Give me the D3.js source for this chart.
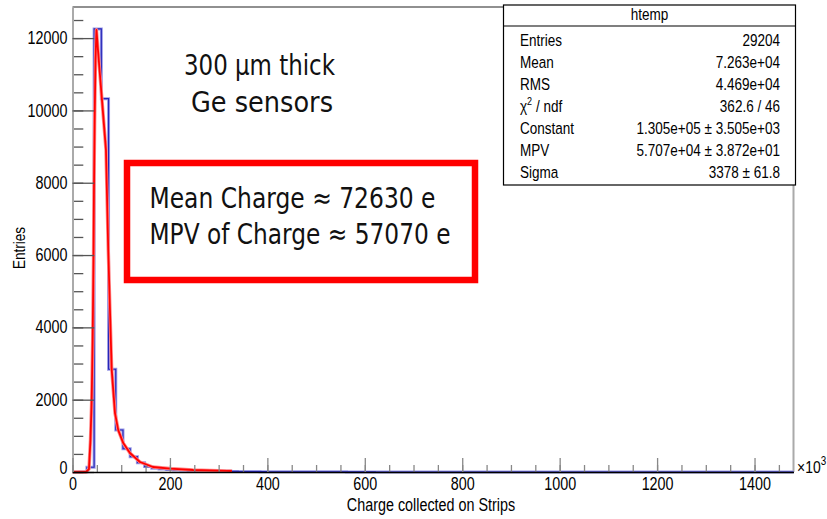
<!DOCTYPE html>
<html lang="en">
<head>
	<meta charset="UTF-8"/>
	<title>htemp - Charge collected on Strips</title>
	<script src="https://d3js.org/d3.v7.min.js"></script>
	<style>
		body { margin: 0; background: #fff; }
		svg { display: block; }
	</style>
</head>
<body>
<script>
var w = 827;
var h = 519;

// histogram htemp : 100 bins, 0 .. 1480 (x10^3)
var xMin = 0, xMax = 1480;
var yMax = 12860;
var binWidth = 14.8;
var counts = [
	0, 4, 130, 12255, 10326, 2841, 1162, 645, 424, 257,
	150, 105, 85, 66, 55, 46, 38, 32, 28, 24,
	21, 18, 16, 14, 12, 11, 10, 9, 8, 7,
	7, 6, 6, 5, 5, 4, 4, 4, 3, 3,
	3, 3, 2, 2, 2, 2, 2, 2, 1, 1,
	1, 1, 1, 1, 1, 1, 1, 1, 1, 1,
	1, 0, 1, 0, 1, 0, 0, 1, 0, 0,
	0, 0, 0, 0, 0, 0, 0, 0, 0, 0,
	0, 0, 0, 0, 0, 0, 0, 0, 0, 0,
	0, 0, 0, 0, 0, 0, 0, 0, 0, 0
];

// landau fit
var fitX = [0, 27.7, 33.8, 36.9, 39.4, 41.4, 43.1, 44.1, 45.5, 47.2, 49.2, 52.3, 56.4, 60.5, 64.6, 68.7,
	73.4, 76.9, 80.4, 87.2, 93.9, 104.2, 117.9, 138.5, 165.1, 200, 247.2, 316.9, 327.2];
var fitY = [0, 0, 80, 890, 1990, 3650, 5860, 7800, 9740, 11400, 12230, 11670, 10980, 10290, 9600, 8910,
	6140, 4480, 2850, 1630, 1160, 800, 525, 277, 138, 95, 55, 30, 28];

var yTicks = [0, 2000, 4000, 6000, 8000, 10000, 12000];
var xTicks = [0, 200, 400, 600, 800, 1000, 1200, 1400];

var statsTitle = "htemp";
var statsLabels = ["Entries", "Mean", "RMS", "χ2 / ndf", "Constant", "MPV", "Sigma"];
var statsValues = ["29204", "7.263e+04", "4.469e+04", "362.6 / 46", "1.305e+05 ± 3.505e+03", "5.707e+04 ± 3.872e+01", "3378 ± 61.8"];

var notes = ["300 µm thick", "Ge sensors"];
var boxNotes = ["Mean Charge ≈ 72630 e", "MPV of Charge ≈ 57070 e"];

var xTitle = "Charge collected on Strips";
var yTitle = "Entries";

var narrow = 0.82;	// root text looks condensed
var rootFont = "'Liberation Sans', Arial, sans-serif";

var xScale = d3.scaleLinear()
	.domain([xMin, xMax])
	.range([72.5, 793.5]);

var yScale = d3.scaleLinear()
	.domain([0, yMax])
	.range([472, 7]);

var svg = d3.select("body")
	.append("svg")
	.attr("width", w)
	.attr("height", h);

svg.append("rect")
	.attr("width", w)
	.attr("height", h)
	.attr("fill", "#fff");

// frame top + right
svg.append("line")
	.attr("x1", xScale(xMin)).attr("x2", xScale(xMax))
	.attr("y1", yScale(yMax)).attr("y2", yScale(yMax))
	.attr("stroke", "#222").attr("stroke-width", 1.2);
svg.append("line")
	.attr("x1", xScale(xMax)).attr("x2", xScale(xMax))
	.attr("y1", yScale(yMax)).attr("y2", yScale(0))
	.attr("stroke", "#aaa").attr("stroke-width", 2);

// histogram outline
var histPts = [[xMin, 0]];
counts.forEach(function(c, i) {
	histPts.push([i * binWidth, c]);
	histPts.push([(i + 1) * binWidth, c]);
});
histPts.push([xMax, 0]);

var line = d3.line()
	.x(function(d) { return xScale(d[0]); })
	.y(function(d) { return yScale(d[1]); });

svg.append("path")
	.datum(histPts)
	.attr("d", line)
	.attr("fill", "none")
	.attr("stroke", "#9a9ae6")
	.attr("stroke-width", 3);
svg.append("path")
	.datum(histPts)
	.attr("d", line)
	.attr("fill", "none")
	.attr("stroke", "#2626b8")
	.attr("stroke-width", 1.1);

// fit
var fitPts = fitX.map(function(x, i) { return [x, fitY[i]]; });
svg.append("path")
	.datum(fitPts)
	.attr("d", line)
	.attr("fill", "none")
	.attr("stroke", "#ff8a8a")
	.attr("stroke-width", 3.4)
	.attr("stroke-linejoin", "round");
svg.append("path")
	.datum(fitPts)
	.attr("d", line)
	.attr("fill", "none")
	.attr("stroke", "#f00")
	.attr("stroke-width", 1.8)
	.attr("stroke-linejoin", "round");

// y axis
var yMinor = d3.axisLeft(yScale)
	.tickValues(d3.range(0, yMax, 500))
	.tickSize(-10.8)
	.tickSizeOuter(0)
	.tickFormat("");
svg.append("g")
	.attr("transform", "translate(" + xScale(xMin) + ",0)")
	.call(yMinor)
	.call(function(g) { g.select(".domain").remove(); })
	.selectAll("line").attr("stroke", "#555").attr("stroke-width", 1.3);

var yAxis = d3.axisLeft(yScale)
	.tickValues(yTicks)
	.tickSize(-21.7)
	.tickSizeOuter(0)
	.tickPadding(5)
	.tickFormat(d3.format("d"));
var gy = svg.append("g")
	.attr("transform", "translate(" + xScale(xMin) + ",0)")
	.call(yAxis);
gy.select(".domain").attr("stroke", "#aaa").attr("stroke-width", 2);
gy.selectAll("line").attr("stroke", "#555").attr("stroke-width", 1.3);
gy.selectAll("text")
	.attr("font-family", rootFont)
	.attr("font-size", "17.5px")
	.attr("fill", "#000")
	.attr("x", -5 / narrow)
	.attr("transform", function(d) {
		return (d === 0 ? "translate(0,-4) " : "") + "scale(" + narrow + ",1)";
	});

// x axis
var xMinor = d3.axisBottom(xScale)
	.tickValues(d3.range(0, xMax, 50))
	.tickSize(-7)
	.tickSizeOuter(0)
	.tickFormat("");
svg.append("g")
	.attr("transform", "translate(0," + yScale(0) + ")")
	.call(xMinor)
	.call(function(g) { g.select(".domain").remove(); })
	.selectAll("line").attr("stroke", "#888").attr("stroke-width", 1.3);

var xAxis = d3.axisBottom(xScale)
	.tickValues(xTicks)
	.tickSize(-14)
	.tickSizeOuter(0)
	.tickPadding(6)
	.tickFormat(d3.format("d"));
var gx = svg.append("g")
	.attr("transform", "translate(0," + yScale(0) + ")")
	.call(xAxis);
gx.select(".domain").attr("stroke", "#000").attr("stroke-width", 1.4);
gx.selectAll("line").attr("stroke", "#888").attr("stroke-width", 1.3);
gx.selectAll("text")
	.attr("font-family", rootFont)
	.attr("font-size", "17.5px")
	.attr("fill", "#000")
	.attr("transform", "scale(" + narrow + ",1)");

// x10^3
var mult = svg.append("text")
	.attr("transform", "translate(797,473) scale(" + narrow + ",1)")
	.attr("font-family", rootFont)
	.attr("font-size", "17px")
	.attr("fill", "#000");
mult.append("tspan").text("×10");
mult.append("tspan").text("3").attr("font-size", "12px").attr("dy", -8);

// axis titles
svg.append("text")
	.text(xTitle)
	.attr("transform", "translate(" + ((xScale(xMin) + xScale(xMax)) / 2 - 2) + ",511) scale(" + narrow + ",1)")
	.attr("text-anchor", "middle")
	.attr("font-family", rootFont)
	.attr("font-size", "17.5px")
	.attr("fill", "#000");

svg.append("text")
	.text(yTitle)
	.attr("transform", "translate(24.5,248) rotate(-90) scale(" + narrow + ",1)")
	.attr("text-anchor", "middle")
	.attr("font-family", rootFont)
	.attr("font-size", "16.5px")
	.attr("fill", "#000");

// stats box
var sb = svg.append("g");
sb.append("rect")
	.attr("x", 503.5).attr("y", 5)
	.attr("width", 292).attr("height", 180)
	.attr("fill", "#fff")
	.attr("stroke", "#000")
	.attr("stroke-width", 1.2);
sb.append("line")
	.attr("x1", 503.5).attr("x2", 795.5)
	.attr("y1", 26).attr("y2", 26)
	.attr("stroke", "#000").attr("stroke-width", 1.2);
sb.append("text")
	.text(statsTitle)
	.attr("transform", "translate(649.5,20) scale(" + narrow + ",1)")
	.attr("text-anchor", "middle")
	.attr("font-family", rootFont)
	.attr("font-size", "16.5px");

statsLabels.forEach(function(lab, i) {
	var y = 45.5 + i * 22;
	var t = sb.append("text")
		.attr("transform", "translate(520," + y + ") scale(" + narrow + ",1)")
		.attr("font-family", rootFont)
		.attr("font-size", "16.5px");
	if (lab.indexOf("χ2") === 0) {
		t.append("tspan").text("χ");
		t.append("tspan").text("2").attr("font-size", "11px").attr("dy", -7);
		t.append("tspan").text(lab.slice(2)).attr("dy", 7);
	} else {
		t.text(lab);
	}
	sb.append("text")
		.text(statsValues[i])
		.attr("transform", "translate(780," + y + ") scale(" + narrow + ",1)")
		.attr("text-anchor", "end")
		.attr("font-family", rootFont)
		.attr("font-size", "16.5px");
});

// pasted notes
var noteFont = "'DejaVu Sans', sans-serif";
var notePos = [[184, 75, 151], [191, 112, 142]];
notes.forEach(function(n, i) {
	svg.append("text")
		.text(n)
		.attr("x", notePos[i][0])
		.attr("y", notePos[i][1])
		.attr("textLength", notePos[i][2])
		.attr("lengthAdjust", "spacingAndGlyphs")
		.attr("font-family", noteFont)
		.attr("font-size", "28px")
		.attr("fill", "#111");
});

svg.append("rect")
	.attr("x", 127).attr("y", 163)
	.attr("width", 348).attr("height", 117)
	.attr("fill", "none")
	.attr("stroke", "#f00")
	.attr("stroke-width", 6.5);

var boxPos = [[149.5, 208, 286], [149.5, 244, 301]];
boxNotes.forEach(function(n, i) {
	svg.append("text")
		.text(n)
		.attr("x", boxPos[i][0])
		.attr("y", boxPos[i][1])
		.attr("textLength", boxPos[i][2])
		.attr("lengthAdjust", "spacingAndGlyphs")
		.attr("font-family", noteFont)
		.attr("font-size", "29px")
		.attr("fill", "#111");
});
</script>
</body>
</html>
